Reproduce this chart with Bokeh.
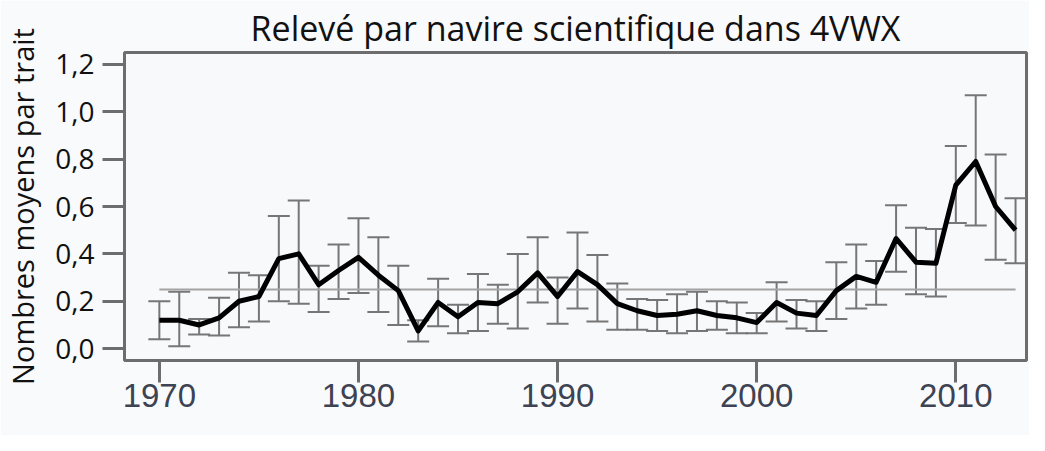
from bokeh.plotting import figure
from bokeh.models import ColumnDataSource, Whisker, TeeHead, FixedTicker, Range1d
from bokeh.embed import file_html
from bokeh.resources import INLINE

# ---- data ----
years = list(range(1970, 2014))
means = [0.12, 0.12, 0.10, 0.13, 0.20, 0.22, 0.38, 0.40, 0.27, 0.33,
         0.385, 0.31, 0.245, 0.075, 0.195, 0.135, 0.195, 0.19, 0.24, 0.32,
         0.22, 0.325, 0.27, 0.19, 0.16, 0.14, 0.145, 0.16, 0.14, 0.13,
         0.11, 0.195, 0.15, 0.14, 0.245, 0.305, 0.28, 0.465, 0.365, 0.36,
         0.69, 0.79, 0.60, 0.50]
lower = [0.04, 0.01, 0.06, 0.055, 0.09, 0.115, 0.20, 0.19, 0.155, 0.21,
         0.235, 0.155, 0.10, 0.03, 0.095, 0.065, 0.075, 0.105, 0.085, 0.195,
         0.105, 0.17, 0.115, 0.08, 0.08, 0.075, 0.065, 0.075, 0.08, 0.065,
         0.065, 0.115, 0.085, 0.075, 0.125, 0.17, 0.185, 0.325, 0.23, 0.22,
         0.53, 0.52, 0.375, 0.36]
upper = [0.20, 0.24, 0.125, 0.215, 0.32, 0.31, 0.56, 0.625, 0.35, 0.44,
         0.55, 0.47, 0.35, 0.12, 0.295, 0.185, 0.315, 0.27, 0.40, 0.47,
         0.30, 0.49, 0.395, 0.275, 0.21, 0.205, 0.23, 0.24, 0.20, 0.195,
         0.15, 0.28, 0.205, 0.20, 0.365, 0.44, 0.37, 0.605, 0.51, 0.505,
         0.855, 1.07, 0.82, 0.635]
ref_years = [1970, 2013]
ref_mean = 0.25

x_ticks = [1970, 1980, 1990, 2000, 2010]
y_ticks = [0.0, 0.2, 0.4, 0.6, 0.8, 1.0, 1.2]
y_tick_labels = ["0,0", "0,2", "0,4", "0,6", "0,8", "1,0", "1,2"]

title_text = "Relevé par navire scientifique dans 4VWX"
y_title = "Nombres moyens par trait"

x_min, x_max = 1968.25, 2013.55
y_min, y_max = -0.05, 1.25

# ---- figure ----
p = figure(width=1029, height=435, output_backend="svg", toolbar_location=None,
           x_range=Range1d(x_min, x_max), y_range=Range1d(y_min, y_max),
           min_border_left=117, min_border_right=3, min_border_top=46,
           min_border_bottom=75)

p.background_fill_color = "#f8f9fb"
p.border_fill_color = "#f9fafb"
p.outline_line_color = "#6d6d6d"
p.outline_line_width = 3
p.grid.visible = False

p.title.text = title_text
p.title.align = "center"
p.title.text_font = "Open Sans"
p.title.text_font_size = "34px"
p.title.text_font_style = "normal"
p.title.text_color = "#111111"
p.title.standoff = 4

src = ColumnDataSource(dict(year=years, mean=means, lower=lower, upper=upper))

whisk = Whisker(base="year", upper="upper", lower="lower", source=src,
                line_color="#767676", line_width=2,
                upper_head=TeeHead(size=22, line_color="#767676", line_width=2),
                lower_head=TeeHead(size=22, line_color="#767676", line_width=2))
p.add_layout(whisk)

p.line(x=ref_years, y=[ref_mean] * len(ref_years), line_color="#a3a3a3", line_width=2)
p.line(x="year", y="mean", source=src, line_color="#000000", line_width=5,
       line_join="round")

# axes
xa = p.xaxis[0]
xa.ticker = FixedTicker(ticks=x_ticks)
xa.axis_line_color = None
xa.major_tick_line_color = "#6d6d6d"
xa.major_tick_line_width = 3
xa.major_tick_out = 22
xa.major_tick_in = 0
xa.minor_tick_line_color = None
xa.major_label_text_font = "Liberation Sans"
xa.major_label_text_font_size = "33px"
xa.major_label_text_color = "#3d4352"
xa.major_label_standoff = 1

ya = p.yaxis[0]
ya.ticker = FixedTicker(ticks=y_ticks)
ya.major_label_overrides = dict(zip(y_ticks, y_tick_labels))
ya.axis_line_color = None
ya.major_tick_line_color = "#6d6d6d"
ya.major_tick_line_width = 3
ya.major_tick_out = 22
ya.major_tick_in = 0
ya.minor_tick_line_color = None
ya.major_label_text_font = "Open Sans"
ya.major_label_text_font_size = "28px"
ya.major_label_text_color = "#111111"
ya.major_label_standoff = 8
ya.axis_label = y_title
ya.axis_label_text_font = "Open Sans"
ya.axis_label_text_font_size = "29px"
ya.axis_label_text_font_style = "normal"
ya.axis_label_text_color = "#111111"
ya.axis_label_standoff = 10

open("out.html", "w").write(file_html(p, INLINE))
